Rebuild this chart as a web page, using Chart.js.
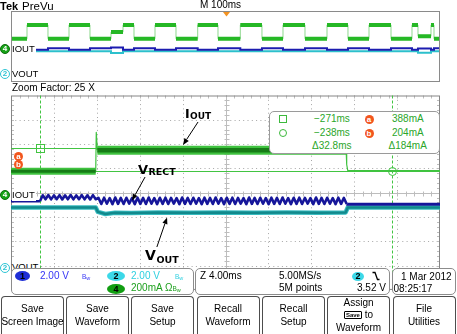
<!DOCTYPE html>
<html>
<head>
<meta charset="utf-8">
<title>Receiver load step</title>
<script src="https://cdn.jsdelivr.net/npm/chart.js@4.4.1/dist/chart.umd.min.js"></script>
<style>
  html, body { margin: 0; padding: 0; background: #fff; }
  body { position: relative; width: 457px; height: 334px; overflow: hidden;
         font-family: "Liberation Sans", Arial, sans-serif; font-size: 10px; color: #000; }
  canvas { position: absolute; left: 0; top: 0; }
  #scope { z-index: 0; }
  #prevu { z-index: 1; }
  .t    { position: absolute; white-space: nowrap; line-height: 12px; height: 12px; z-index: 3; }
  .lbl  { font-size: 9.5px; background: #fff; padding-right: 1px; }
  .g    { color: #2aa62a; }
  .mark { position: absolute; box-sizing: border-box; border-radius: 50%; text-align: center;
          font-weight: bold; z-index: 3; }
  .ch4  { width: 10px; height: 10px; background: #17a317; border: 1px solid #0c6d0c; color: #fff;
          font-size: 8px; line-height: 8px; }
  .ch2o { width: 10px; height: 10px; background: #fff; border: 1px solid #2ec4d4; color: #2ec4d4;
          font-size: 8px; line-height: 8px; }
  .cur  { width: 9px; height: 9px; background: #f2561d; color: #fff; font-size: 8px; line-height: 9px; }
  .badge { position: absolute; height: 10px; border-radius: 50%; text-align: center; font-size: 9px;
           font-weight: bold; line-height: 10px; z-index: 3; }
  .box  { position: absolute; box-sizing: border-box; border: 1px solid #8c8c8c; background: #fff;
          border-radius: 5px; z-index: 2; }
  .bw   { font-size: 6.5px; }
  .bw sub { font-size: 5.5px; vertical-align: -1px; }
  .btn  { position: absolute; top: 296px; width: 63px; height: 40px; box-sizing: border-box;
          border: 1px solid #4d4d4d; border-bottom: none; border-radius: 4px 4px 0 0; background: #fff;
          display: flex; flex-direction: column; align-items: center; justify-content: center;
          line-height: 12.5px; padding-bottom: 2px; white-space: nowrap; z-index: 3; }
  .key  { font-size: 6px; font-weight: bold; border: 1px solid #000; border-radius: 1px;
          padding: 0 1px; line-height: 6px; vertical-align: 1px; }
</style>
</head>
<body>
<canvas id="scope" width="457" height="334"></canvas>
<canvas id="prevu" width="457" height="90"></canvas>

<!-- header -->
<div class="t" style="left:0;top:-0.5px;font-weight:bold;font-size:11px">Tek</div>
<div class="t" style="left:22px;top:-0.5px;font-size:11.5px">PreVu</div>
<div class="t" style="left:200px;top:-0.6px">M 100ms</div>
<div class="t" style="left:12px;top:82px">Zoom Factor: 25 X</div>

<!-- channel markers, overview strip -->
<div class="mark ch4" style="left:0;top:43.5px">4</div>
<div class="t lbl" style="left:12px;top:42.5px">IOUT</div>
<div class="mark ch2o" style="left:0;top:68.5px">2</div>
<div class="t lbl" style="left:12px;top:67.5px">VOUT</div>

<!-- channel markers, zoom window -->
<div class="mark ch4" style="left:0;top:189.5px">4</div>
<div class="t lbl" style="left:12px;top:188.5px">IOUT</div>
<div class="mark ch2o" style="left:0;top:263px">2</div>
<div class="t lbl" style="left:12px;top:261px;z-index:1">VOUT</div>
<div class="mark cur" style="left:14px;top:151.5px">a</div>
<div class="mark cur" style="left:14px;top:160px">b</div>

<!-- cursor readout -->
<div class="box" style="left:269px;top:111px;width:171px;height:43px;border-color:#9a9a9a"></div>
<div class="mark" style="left:279px;top:114.5px;width:8px;height:8px;border:1px solid #3cb93c;border-radius:0"></div>
<div class="t g" id="ta" style="left:314px;top:113px"></div>
<div class="mark cur" style="left:364.5px;top:114.5px">a</div>
<div class="t g" id="va" style="left:392px;top:113px"></div>
<div class="mark" style="left:279px;top:129px;width:8px;height:8px;border:1px solid #3cb93c"></div>
<div class="t g" id="tb" style="left:314px;top:127px"></div>
<div class="mark cur" style="left:364.5px;top:128.5px">b</div>
<div class="t g" id="vb" style="left:392px;top:127px"></div>
<div class="t g" id="dt" style="left:312px;top:140px"></div>
<div class="t g" id="dv" style="left:388.5px;top:140px"></div>

<!-- readout strip -->
<div class="box" style="left:11px;top:268px;width:183px;height:27px"></div>
<div class="box" style="left:195px;top:268px;width:195px;height:27px"></div>
<div class="box" style="left:392px;top:268px;width:64px;height:27px"></div>

<div class="badge" style="left:15px;top:270.5px;width:15px;background:#1e2ed6">1</div>
<div class="t" style="left:40px;top:269.8px;color:#3535f5">2.00 V</div>
<div class="t bw" style="left:82px;top:270.5px;color:#3535f5">B<sub>w</sub></div>
<div class="badge" style="left:107px;top:270.5px;width:18px;background:#3cd8e8">2</div>
<div class="t" style="left:131px;top:269.8px;color:#2fd0e0">2.00 V</div>
<div class="t bw" style="left:175px;top:270.5px;color:#2fd0e0">B<sub>w</sub></div>
<div class="badge" style="left:107px;top:283.5px;width:18px;background:#119d11">4</div>
<div class="t" style="left:131px;top:282px;color:#1ea01e">200mA Ω<span class="bw">B<sub>w</sub></span></div>

<div class="t" style="left:200px;top:270px">Z 4.00ms</div>
<div class="t" style="left:279px;top:270px">5.00MS/s</div>
<div class="t" style="left:279px;top:282px">5M points</div>
<div class="badge" style="left:352px;top:272px;width:12px;height:9px;line-height:9px;background:#3cd8e8">2</div>
<svg style="position:absolute;left:372px;top:271px;z-index:3" width="8" height="10">
  <path d="M0.5 1.5H3L5.5 8.5H7.5" fill="none" stroke="#000" stroke-width="1.3"/>
</svg>
<div class="t" style="left:357px;top:282px">3.52 V</div>

<div class="t" style="left:401px;top:271px">1 Mar 2012</div>
<div class="t" style="left:393.5px;top:282.5px">08:25:17</div>

<!-- soft keys -->
<div class="btn" style="left:1px"><span>Save</span><span>Screen Image</span></div>
<div class="btn" style="left:66px"><span>Save</span><span>Waveform</span></div>
<div class="btn" style="left:131px"><span>Save</span><span>Setup</span></div>
<div class="btn" style="left:196.5px"><span>Recall</span><span>Waveform</span></div>
<div class="btn" style="left:262px"><span>Recall</span><span>Setup</span></div>
<div class="btn" style="left:327px"><span>Assign</span><span><span class="key">Save</span> to</span><span>Waveform</span></div>
<div class="btn" style="left:392.5px"><span>File</span><span>Utilities</span></div>

<script>
// ---- whole record (PreVu strip): 100 ms/div, trigger at 0 ----
// edge times in ms; each level holds from its edge to the next one
const preTimes = [-500, -462.7, -413.8, -364.8, -315.9, -266.9, -238.9, -213.3, -164.3, -115.4,
                  -64.8, -17.5, 34.5, 85, 134, 185.3, 236.6, 285.5, 334.5, 385.8,
                  434.7, 448.7, 479, 486, 500];
const preIout  = [200, 400, 200, 400, 200, 297, 400, 200, 400, 200, 400, 200,
                  400, 200, 400, 200, 400, 200, 400, 200, 400, 236, 400, 200];      // mA
const preVrect = [5.45, 5.25, 5.45, 5.25, 5.45, 5.55, 5.25, 5.45, 5.25, 5.45, 5.25, 5.45,
                  5.25, 5.45, 5.25, 5.45, 5.25, 5.45, 5.25, 5.45, 5.25, 5.4, 5.25, 5.45]; // V
const preVout  = [5, 5, 5, 5, 5, 4.75, 5, 5, 5, 5, 5, 5,
                  5, 5, 5, 5, 5, 5, 5, 5, 5, 4.8, 5, 5];                             // V

// ---- zoom window: 4 ms/div ----
const zoomStart = -273.7;
const timeDiv   = 4;
const ch4 = { scale: 200, offset: -0.115 };   // IOUT: mA/div, ground in div from centre
const ch2 = { scale: 2,   offset: -3.10 };    // VOUT / VRECT: V/div

const ioutTimes  = [-273.7, -265.8, -265.75, -265.65, -242.45, -242.4, -242.3, -233.7];
const ioutValues = [200, 200, 520, 372, 372, 255, 204, 204];

const vrectHeadTimes  = [-273.7, -271.0];
const vrectHeadValues = [5.5, 5.5];
const rippleStart = -271.0;
const rippleHalf  = 0.26;     // ms from crest to trough
const vrectRipple = [
  5.99, 5.66, 6.01, 5.65, 5.98, 5.67, 6.00, 5.64, 5.99, 5.66, 6.01, 5.65, 5.98, 5.67, 6.00, 5.65, 5.99, 5.64, 6.00, 5.66,
  5.77, 5.27, 5.79, 5.29, 5.76, 5.26, 5.80, 5.28, 5.77, 5.27, 5.78, 5.30, 5.75, 5.26, 5.79, 5.28, 5.77, 5.27, 5.80, 5.29,
  5.76, 5.26, 5.78, 5.28, 5.79, 5.27, 5.77, 5.30, 5.75, 5.26, 5.80, 5.28, 5.77, 5.27, 5.78, 5.29, 5.76, 5.26, 5.79, 5.28,
  5.77, 5.27, 5.80, 5.29, 5.76, 5.26, 5.78, 5.28, 5.79, 5.27, 5.77, 5.30, 5.75, 5.26, 5.80, 5.28, 5.77, 5.27, 5.78, 5.29,
  5.76, 5.26, 5.79, 5.28, 5.77, 5.27, 5.80, 5.29, 5.76, 5.26, 5.78, 5.28, 5.79, 5.27, 5.77, 5.30, 5.75, 5.26, 5.80, 5.28,
  5.77, 5.27, 5.78, 5.29, 5.76, 5.26, 5.79, 5.28, 5.77, 5.27
];
const vrectTailTimes  = [-242.35, -233.7];
const vrectTailValues = [5.24, 5.24];

const voutTimes  = [-273.7, -265.8, -265.6, -264.9, -264.0, -262.5, -260.0, -257.0, -254.0,
                    -251.0, -248.0, -245.0, -242.5, -242.3, -233.7];
const voutValues = [4.98, 4.98, 4.62, 4.45, 4.55, 4.52, 4.57, 4.54, 4.58,
                    4.55, 4.57, 4.56, 4.58, 4.98, 4.98];

const cursorTimes  = [-271.0, -238.2];   // ms
const cursorLevels = [388, 204];         // mA

// trace names with their pointers, in data units
const notes = [
  { main: 'I', sub: 'OUT',  axis: 'ycur', at: [-257.48, 634], size: 12.5, subSize: 9,   drop: 0.8,
    from: [-256.26, 605], to: [-257.66, 416] },
  { main: 'V', sub: 'RECT', axis: 'yv',   at: [-261.86, 7.70], size: 13,  subSize: 9.5, drop: 0.6,
    from: [-261.2, 7.49], to: [-262.42, 5.56] },
  { main: 'V', sub: 'OUT',  axis: 'yv',   at: [-261.2, 0.70], size: 14,   subSize: 9.5, drop: 3.2,
    from: [-260.1, 1.73], to: [-259.15, 4.16] }
];

// ---- helpers ----
const pts = (xs, ys) => xs.map((x, i) => ({ x, y: ys[i] }));
const held = (times, levels) => pts(times, levels.concat(levels[levels.length - 1]));

function bands(times, levels) {
  const out = [];
  levels.forEach((v, i) => out.push({ x: times[i], y: v }, { x: times[i + 1], y: v }, { x: times[i + 1], y: null }));
  return out;
}

const fmtMs = v => (v < 0 ? '\u2212' : '') + Math.abs(v).toFixed(0) + 'ms';
document.getElementById('ta').textContent = fmtMs(cursorTimes[0]);
document.getElementById('tb').textContent = fmtMs(cursorTimes[1]);
document.getElementById('va').textContent = cursorLevels[0] + 'mA';
document.getElementById('vb').textContent = cursorLevels[1] + 'mA';
document.getElementById('dt').textContent = '\u0394' + (cursorTimes[1] - cursorTimes[0]).toFixed(1) + 'ms';
document.getElementById('dv').textContent = '\u0394' + (cursorLevels[0] - cursorLevels[1]) + 'mA';

// ---- PreVu strip ----
const prevuFrame = {
  id: 'prevuFrame',
  afterDatasetsDraw(chart) {
    const { ctx, chartArea: a, scales: { x } } = chart;
    ctx.save();
    ctx.strokeStyle = '#8a8a8a';
    ctx.lineWidth = 1;
    ctx.strokeRect(a.left + 0.5, a.top + 0.5, a.width - 1, a.height - 1);
    const tx = x.getPixelForValue(0) + 1;
    ctx.fillStyle = '#f39322';
    ctx.beginPath();
    ctx.moveTo(tx - 3.5, a.top + 1);
    ctx.lineTo(tx + 3.5, a.top + 1);
    ctx.lineTo(tx, a.top + 5.5);
    ctx.closePath();
    ctx.fill();
    ctx.restore();
  }
};

new Chart(document.getElementById('prevu'), {
  type: 'line',
  data: {
    datasets: [
      { data: bands(preTimes, preIout), yAxisID: 'ycur', borderColor: '#25b825', borderWidth: 4, order: 3 },
      { data: held(preTimes, preIout), yAxisID: 'ycur', borderColor: '#8fd88f', borderWidth: 1, stepped: 'before', order: 4 },
      { data: held(preTimes, preVrect), yAxisID: 'yv', borderColor: '#1c1cb0', borderWidth: 2, stepped: 'before', order: 1 },
      { data: held(preTimes, preVout), yAxisID: 'yv', borderColor: '#2cc0cc', borderWidth: 2, stepped: 'before', order: 2 }
    ]
  },
  options: {
    responsive: false, animation: false, events: [],
    layout: { padding: { left: 11, top: 11, right: 17, bottom: 8 } },
    elements: { point: { radius: 0 }, line: { tension: 0 } },
    plugins: { legend: { display: false }, tooltip: { enabled: false } },
    scales: {
      x:    { type: 'linear', min: -500, max: 500, display: false },
      ycur: { type: 'linear', min: -420, max: 600, display: false },
      yv:   { type: 'linear', min: 0.6, max: 10.8, display: false }
    }
  },
  plugins: [prevuFrame]
});

// ---- zoom window ----
const graticule = {
  id: 'graticule',
  beforeDatasetsDraw(chart) {
    const { ctx, chartArea: a, scales } = chart;
    const x = scales.x, y = scales.ydiv, yc = scales.ycur;
    const px = t => Math.round(x.getPixelForValue(t)) + 0.5;
    const py = d => Math.round(y.getPixelForValue(d)) + 0.5;
    ctx.save();
    ctx.lineWidth = 1;

    // dotted division lines
    ctx.strokeStyle = '#a6a6a6';
    ctx.setLineDash([1, 3.3]);
    ctx.beginPath();
    for (let i = 1; i < 10; i++) {
      if (i === 5) continue;
      const X = px(zoomStart + i * timeDiv);
      ctx.moveTo(X, a.top); ctx.lineTo(X, a.bottom);
    }
    for (let j = -3; j <= 3; j++) {
      if (!j) continue;
      const Y = py(j);
      ctx.moveTo(a.left, Y); ctx.lineTo(a.right, Y);
    }
    ctx.stroke();
    ctx.setLineDash([]);

    // centre cross with fifth-division ticks, ticks on the frame
    const cx = px(zoomStart + 5 * timeDiv), cy = py(0);
    ctx.strokeStyle = '#bdbdbd';
    ctx.beginPath();
    ctx.moveTo(a.left, cy); ctx.lineTo(a.right, cy);
    ctx.moveTo(cx, a.top); ctx.lineTo(cx, a.bottom);
    for (let k = 1; k < 50; k++) {
      const X = px(zoomStart + k * timeDiv / 5);
      ctx.moveTo(X, cy - 2); ctx.lineTo(X, cy + 3);
      ctx.moveTo(X, a.top); ctx.lineTo(X, a.top + 3);
    }
    for (let k = -19; k < 20; k++) {
      const Y = py(k / 5);
      ctx.moveTo(cx - 2, Y); ctx.lineTo(cx + 3, Y);
      ctx.moveTo(a.left, Y); ctx.lineTo(a.left + 3, Y);
      ctx.moveTo(a.right - 3, Y); ctx.lineTo(a.right, Y);
    }
    ctx.stroke();

    ctx.strokeStyle = '#858585';
    ctx.strokeRect(a.left + 0.5, a.top + 0.5, a.width - 1, a.height - 1);

    // cursors: levels solid, times dashed
    ctx.strokeStyle = '#42c442';
    ctx.beginPath();
    cursorLevels.forEach(v => {
      const Y = Math.round(yc.getPixelForValue(v)) + 0.5;
      ctx.moveTo(a.left, Y); ctx.lineTo(a.right, Y);
    });
    ctx.stroke();
    ctx.setLineDash([3, 2]);
    ctx.beginPath();
    cursorTimes.forEach(t => {
      const X = px(t);
      ctx.moveTo(X, a.top); ctx.lineTo(X, a.bottom);
    });
    ctx.stroke();
    ctx.restore();
  },
  afterDatasetsDraw(chart) {
    const { ctx, scales } = chart;
    const x = scales.x, yc = scales.ycur;
    ctx.save();
    ctx.strokeStyle = '#42c442';
    ctx.lineWidth = 1;
    const ax = Math.round(x.getPixelForValue(cursorTimes[0])) + 0.5;
    const ay = Math.round(yc.getPixelForValue(cursorLevels[0])) + 0.5;
    ctx.strokeRect(ax - 4, ay - 4, 8, 8);
    const bx = Math.round(x.getPixelForValue(cursorTimes[1])) + 0.5;
    const by = Math.round(yc.getPixelForValue(cursorLevels[1])) + 0.5;
    ctx.beginPath();
    ctx.arc(bx, by, 4, 0, Math.PI * 2);
    ctx.stroke();

    ctx.fillStyle = '#000';
    ctx.strokeStyle = '#000';
    ctx.textBaseline = 'alphabetic';
    notes.forEach(n => {
      const ys = scales[n.axis];
      const lx = x.getPixelForValue(n.at[0]), ly = ys.getPixelForValue(n.at[1]);
      ctx.font = 'bold ' + n.size + 'px "DejaVu Sans"';
      ctx.fillText(n.main, lx, ly);
      const w = ctx.measureText(n.main).width;
      ctx.font = 'bold ' + n.subSize + 'px "DejaVu Sans"';
      ctx.fillText(n.sub, lx + w + 0.5, ly + n.drop);
      arrow(ctx, x.getPixelForValue(n.from[0]), ys.getPixelForValue(n.from[1]),
                 x.getPixelForValue(n.to[0]), ys.getPixelForValue(n.to[1]));
    });
    ctx.restore();
  }
};

function arrow(ctx, x0, y0, x1, y1) {
  const ang = Math.atan2(y1 - y0, x1 - x0), len = 6.5, half = 2.6;
  const bx = x1 - len * Math.cos(ang), by = y1 - len * Math.sin(ang);
  ctx.lineWidth = 1;
  ctx.beginPath();
  ctx.moveTo(x0, y0); ctx.lineTo(bx, by);
  ctx.stroke();
  ctx.beginPath();
  ctx.moveTo(x1, y1);
  ctx.lineTo(bx + half * Math.sin(ang), by - half * Math.cos(ang));
  ctx.lineTo(bx - half * Math.sin(ang), by + half * Math.cos(ang));
  ctx.closePath();
  ctx.fill();
}

const ioutPts  = pts(ioutTimes, ioutValues);
const vrectPts = pts(vrectHeadTimes, vrectHeadValues)
  .concat(vrectRipple.map((v, i) => ({ x: rippleStart + (i + 1) * rippleHalf, y: v })))
  .concat(pts(vrectTailTimes, vrectTailValues));
const voutPts  = pts(voutTimes, voutValues);

// noisy current band is wide while loaded, edges and the quiet tail are thin
const isBand = c => (c.p1.parsed.x - c.p0.parsed.x) > 0.3 && c.p0.parsed.x < ioutTimes[5];
const ioutWidth = (low, high, thin) => c => !isBand(c) ? thin : (c.p0.parsed.y > 300 ? high : low);
const vrectWidth = c => c.p0.parsed.x < rippleStart ? 2.5 : (c.p0.parsed.x >= vrectTailTimes[0] - 0.1 ? 3 : 2.6);

new Chart(document.getElementById('scope'), {
  type: 'line',
  data: {
    datasets: [
      { data: voutPts, yAxisID: 'yv', borderColor: '#36bcc0', borderWidth: 4.5, order: 6 },
      { data: voutPts, yAxisID: 'yv', borderColor: '#12898c', borderWidth: 2.5, order: 5 },
      { data: ioutPts, yAxisID: 'ycur', borderColor: '#3fc23f', order: 4,
        segment: { borderWidth: ioutWidth(7, 9, 1.2) } },
      { data: ioutPts, yAxisID: 'ycur', borderColor: '#167c16', order: 3,
        segment: { borderWidth: ioutWidth(3, 4.5, 1), borderColor: c => isBand(c) ? undefined : 'rgba(0,0,0,0)' } },
      { data: vrectPts, yAxisID: 'yv', borderColor: '#16169a', order: 1, segment: { borderWidth: vrectWidth } }
    ]
  },
  options: {
    responsive: false, animation: false, events: [],
    layout: { padding: { left: 11, top: 95.5, right: 17, bottom: 44.1 } },
    elements: { point: { radius: 0 }, line: { tension: 0, borderJoinStyle: 'round' } },
    plugins: { legend: { display: false }, tooltip: { enabled: false } },
    scales: {
      x:    { type: 'linear', min: zoomStart, max: zoomStart + 10 * timeDiv, display: false },
      ydiv: { type: 'linear', axis: 'y', min: -4, max: 4, display: false },
      ycur: { type: 'linear', axis: 'y', min: (-4 - ch4.offset) * ch4.scale, max: (4 - ch4.offset) * ch4.scale, display: false },
      yv:   { type: 'linear', axis: 'y', min: (-4 - ch2.offset) * ch2.scale, max: (4 - ch2.offset) * ch2.scale, display: false }
    }
  },
  plugins: [graticule]
});
</script>
</body>
</html>
